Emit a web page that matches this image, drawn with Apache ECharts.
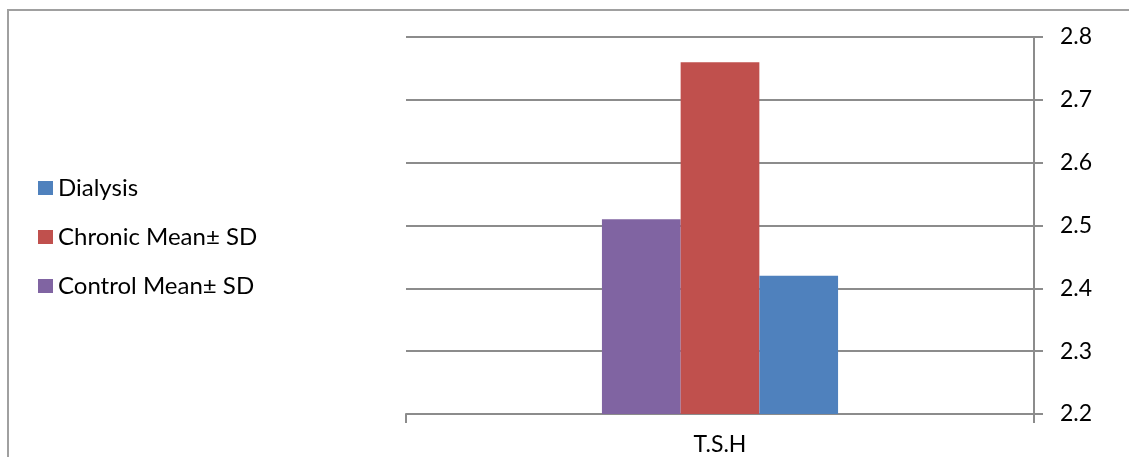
<!DOCTYPE html>
<html>
<head>
<meta charset="utf-8">
<script src="https://cdn.jsdelivr.net/npm/echarts@6/dist/echarts.min.js"></script>
<style>
html,body{margin:0;padding:0;background:#fff;}
#chart{width:1129px;height:457px;}
</style>
</head>
<body>
<div id="chart"></div>
<script>
const categories = ['T.S.H'];
const legendOrder = ['Dialysis', 'Chronic Mean± SD', 'Control Mean± SD'];
const controlValues = [2.51];
const chronicValues = [2.76];
const dialysisValues = [2.42];
const yTicks = { min: 2.2, max: 2.8, interval: 0.1 };

const FONT = 'Lato';
const chart = echarts.init(document.getElementById('chart'));
chart.setOption({
  animation: false,
  backgroundColor: '#fff',
  textStyle: { fontFamily: FONT },
  graphic: [{
    type: 'rect',
    shape: { x: 8, y: 10, width: 1300, height: 600 },
    style: { fill: 'none', stroke: '#a0a0a0', lineWidth: 2 },
    silent: true
  }],
  legend: {
    orient: 'vertical',
    left: 38,
    top: 176,
    padding: 0,
    itemWidth: 15,
    itemHeight: 14,
    itemGap: 25,
    itemTextGap: 7,
    icon: 'rect',
    data: legendOrder,
    textStyle: { fontFamily: FONT, fontSize: 24, color: '#000' }
  },
  grid: { left: 406, right: 95, top: 37, bottom: 43, containLabel: false },
  xAxis: {
    type: 'category',
    data: categories,
    axisLine: { show: true, lineStyle: { color: '#8c8c8c', width: 2 } },
    axisTick: { show: true, length: 9, lineStyle: { color: '#8c8c8c', width: 2 } },
    axisLabel: { fontFamily: FONT, fontSize: 23, color: '#000', margin: 19 },
    splitLine: { show: false }
  },
  yAxis: {
    type: 'value',
    position: 'right',
    min: yTicks.min,
    max: yTicks.max,
    interval: yTicks.interval,
    axisLine: { show: true, lineStyle: { color: '#8c8c8c', width: 2 } },
    axisTick: { show: true, length: 9, lineStyle: { color: '#8c8c8c', width: 2 } },
    axisLabel: { fontFamily: FONT, fontSize: 23, color: '#000', margin: 26,
      formatter: v => v.toFixed(1) },
    splitLine: { show: true, lineStyle: { color: '#8c8c8c', width: 2 } }
  },
  series: [
    { name: 'Control Mean± SD', type: 'bar', data: controlValues, itemStyle: { color: '#8064A2' }, barGap: '0%', barCategoryGap: '62.4%' },
    { name: 'Chronic Mean± SD', type: 'bar', data: chronicValues, itemStyle: { color: '#C0504D' }, barGap: '0%', barCategoryGap: '62.4%' },
    { name: 'Dialysis', type: 'bar', data: dialysisValues, itemStyle: { color: '#4F81BD' }, barGap: '0%', barCategoryGap: '62.4%' }
  ]
});
</script>
</body>
</html>
